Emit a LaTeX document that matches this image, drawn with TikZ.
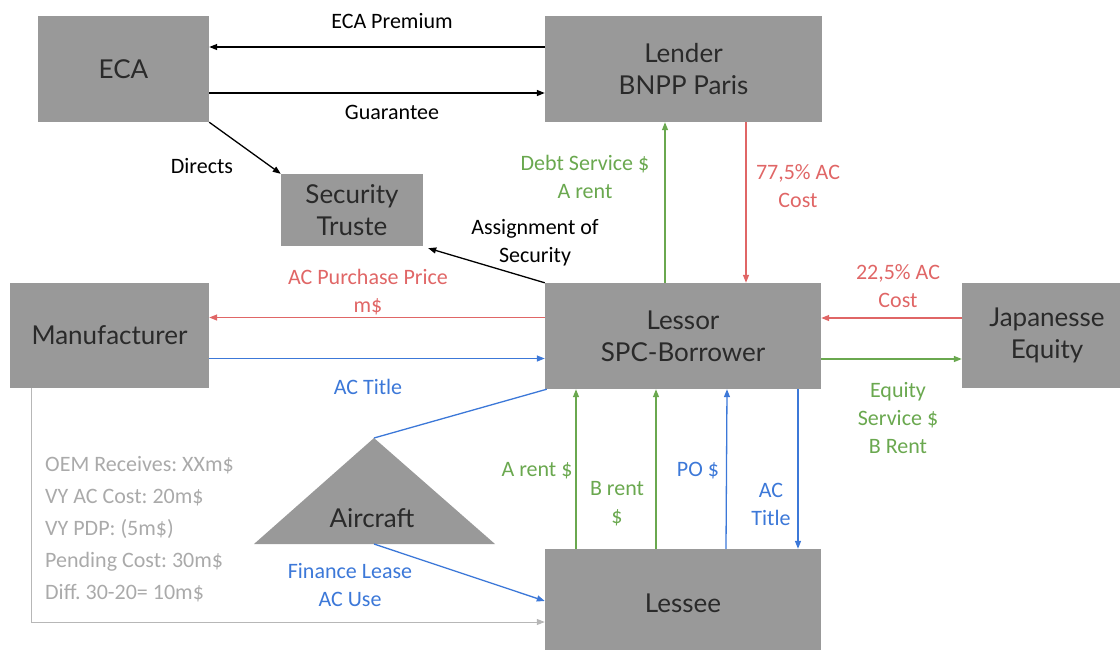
\documentclass[tikz,border=0pt]{standalone}
\usepackage{fontspec}
\setmainfont{Carlito}
\newfontfamily\nodefont{Lato}
\frenchspacing
\usetikzlibrary{arrows.meta,calc}
\definecolor{boxgrey}{HTML}{999999}
\definecolor{boxtext}{HTML}{2A2A2A}
\definecolor{cred}{HTML}{E06666}
\definecolor{cgreen}{HTML}{6AA84F}
\definecolor{cblue}{HTML}{3C78D8}
\definecolor{cgrey}{HTML}{B7B7B7}
\definecolor{ctext}{HTML}{AAAAAA}
\begin{document}
\begin{tikzpicture}[x=1pt,y=-1pt,
  box/.style={fill=boxgrey,draw=none,inner sep=0pt,text=boxtext,align=center,
    font=\nodefont\fontsize{26}{32}\selectfont},
  lbl/.style={align=center,font=\fontsize{22}{28}\selectfont,inner sep=0pt},
  conn/.style={line width=1.3pt,-{Triangle[length=8pt,width=6pt]}},
  plain/.style={line width=1.3pt}
]
\useasboundingbox (0,0) rectangle (1120,649);
\clip (0,0) rectangle (1120,649);
% boxes
\node[box,minimum width=171pt,minimum height=106pt] (eca) at (123.5,69) {ECA};
\node[box,minimum width=277pt,minimum height=106pt] (lender) at (683.5,69) {Lender\\BNPP Paris};
\node[box,minimum width=142pt,minimum height=72pt] (st) at (352,210) {Security\\Truste};
\node[box,minimum width=199pt,minimum height=105pt] (manu) at (109.5,335.5) {Manufacturer};
\node[box,minimum width=276pt,minimum height=106pt] (lessor) at (683,336) {Lessor\\SPC-Borrower};
\node[box,minimum width=170pt,minimum height=105pt] (jap) at (1047,335.5) {Japanesse\\Equity};
\node[box,minimum width=276pt,minimum height=108pt] (lessee) at (683,603) {Lessee};
% aircraft
\coordinate (acapex) at (374,438);
\coordinate (acbase) at (374,544);
\fill[boxgrey] (acapex) -- (495,544) -- (254,544) -- cycle;
\node[box,fill=none] (actext) at (372,518) {Aircraft};

% black connectors
\draw[conn] ([yshift=22pt]lender.west) -- ([yshift=22pt]eca.east);
\draw[conn] ([yshift=-24pt]eca.east) -- ([yshift=-24pt]lender.west);
\draw[conn] (eca.south east) -- (st.north west);
\draw[conn] (lessor.north west) -- ([xshift=5pt,yshift=-2pt]st.south east);
% manufacturer
\draw[conn,cred] ([yshift=18.5pt]lessor.west) -- ([yshift=18.5pt]lessor.west -| manu.east);
\draw[conn,cblue] ([yshift=-23pt]manu.east) -- ([yshift=-23pt]manu.east -| lessor.west);
% lender-lessor
\draw[conn,cgreen] ([xshift=-18pt]lessor.north) -- ([xshift=-18pt]lessor.north |- lender.south);
\draw[conn,cred] ([xshift=63pt]lessor.north |- lender.south) -- ([xshift=63pt]lessor.north);
% equity
\draw[conn,cred] ([yshift=17.5pt]jap.west) -- ([yshift=17.5pt]jap.west -| lessor.east);
\draw[conn,cgreen] ([yshift=-23.5pt]jap.west -| lessor.east) -- ([yshift=-23.5pt]jap.west);
% lessee-lessor
\draw[conn,cgreen] ([xshift=-107pt]lessee.north) -- ([xshift=-107pt]lessee.north |- lessor.south);
\draw[conn,cgreen] ([xshift=-27pt]lessee.north) -- ([xshift=-27pt]lessee.north |- lessor.south);
\draw[conn,cblue] ([xshift=43pt]lessee.north) -- ([xshift=44pt]lessee.north |- lessor.south);
\draw[conn,cblue] ([xshift=115pt]lessee.north |- lessor.south) -- ([xshift=115pt]lessee.north);
% aircraft
\draw[plain,cblue] ([xshift=2pt]lessor.south west) -- (acapex);
\draw[conn,cblue] (acbase) -- ([yshift=2pt]lessee.west);
% grey
\draw[conn,cgrey,line width=1pt] ([xshift=22pt]manu.south west) |- ([yshift=-19pt]lessee.west);

% labels
\node[lbl] (l1) at (392,21) {ECA Premium};
\node[lbl] (l2) at (392,112) {Guarantee};
\node[lbl] (l3) at (202,166) {Directs};
\node[lbl] (l4) at (535,243) {Assignment of\\Security};
\node[lbl,text=cgreen] (l5) at (585,177) {Debt Service \$\\A rent};
\node[lbl,text=cred] (l6) at (798,186) {77,5\% AC\\Cost};
\node[lbl,text=cred] (l7) at (368,292) {AC Purchase Price\\m\$};
\node[lbl,text=cblue] (l8) at (368,387) {AC Title};
\node[lbl,text=cred] (l9) at (898,286) {22,5\% AC\\Cost};
\node[lbl,text=cgreen] (l10) at (898,418) {Equity\\Service \$\\B Rent};
\node[lbl,text=cgreen] (l11) at (537,471) {A rent \$};
\node[lbl,text=cgreen] (l12) at (617,504) {B rent\\\$};
\node[lbl,text=cblue] (l13) at (698,471) {PO \$};
\node[lbl,text=cblue] (l14) at (771,504) {AC\\Title};
\node[lbl,text=cblue] (l15) at (350,585) {Finance Lease\\AC Use};
\node[lbl,text=ctext,align=left,anchor=west,font=\fontsize{22}{32}\selectfont] (l16) at (45,529)
  {OEM Receives: XXm\$\\VY AC Cost: 20m\$\\VY PDP: (5m\$)\\Pending Cost: 30m\$\\Diff. 30-20= 10m\$};
\end{tikzpicture}
\end{document}
